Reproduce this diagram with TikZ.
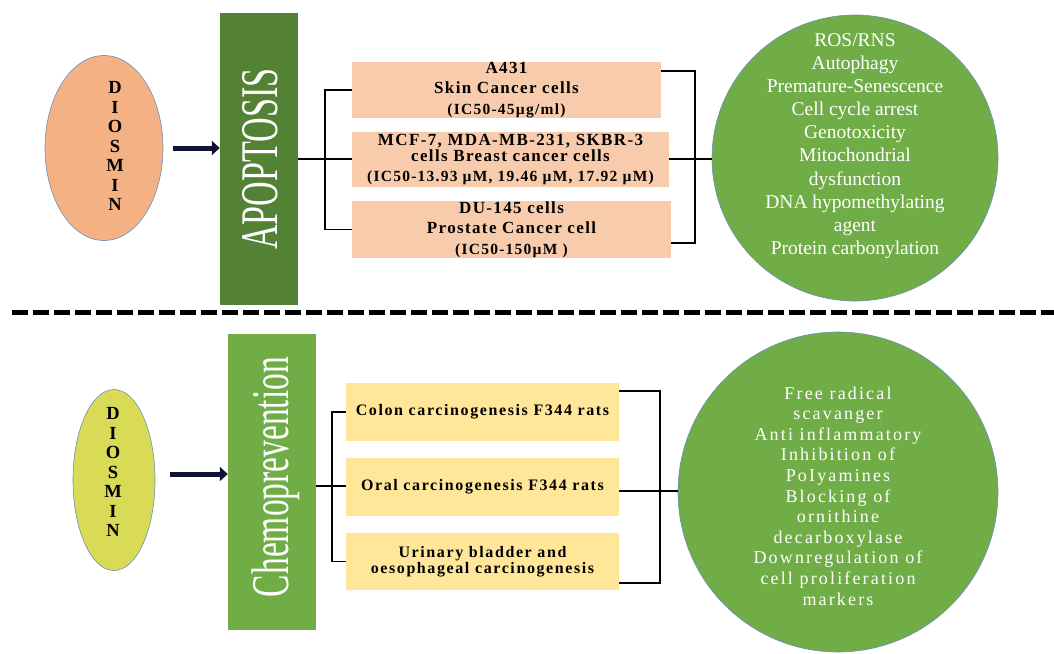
\documentclass[tikz,border=0pt]{standalone}
\usepackage{fontspec}
\setmainfont{Liberation Serif}
\newfontfamily\trkA[LetterSpace=8,Ligatures=NoCommon]{Liberation Serif}
\newfontfamily\trkB[LetterSpace=10,Ligatures=NoCommon]{Liberation Serif}
\newfontfamily\trkC[LetterSpace=12,Ligatures=NoCommon]{Liberation Serif}
\usetikzlibrary{shapes.geometric,arrows.meta}
\definecolor{orangeE}{HTML}{F4B183}
\definecolor{ellOut}{HTML}{6A8EBB}
\definecolor{darkG}{HTML}{548235}
\definecolor{peach}{HTML}{F8CBAD}
\definecolor{lgreen}{HTML}{70AD47}
\definecolor{yellE}{HTML}{D9DA55}
\definecolor{gold}{HTML}{FFE699}
\definecolor{arrowC}{HTML}{0F1230}
\begin{document}
\begin{tikzpicture}[x=1pt,y=-1pt,
  oval/.style={ellipse,draw=ellOut,line width=0.6pt,inner sep=0pt},
  dletters/.style={align=center,inner sep=0pt,font=\fontsize{18.5}{19.5}\selectfont\bfseries},
  bar/.style={rectangle,draw=none,inner sep=0pt},
  vtext/.style={rotate=90,anchor=base,inner sep=0pt,text=white},
  pbox/.style={rectangle,fill=peach,draw=none,inner sep=0pt,align=center,
    font=\trkA\bfseries\fontsize{17}{20.5}\selectfont},
  gbox/.style={rectangle,fill=gold,draw=none,inner sep=0pt,align=center,
    font=\trkB\bfseries\fontsize{16}{16}\selectfont},
  bigcirc/.style={circle,fill=lgreen,draw=ellOut,line width=0.6pt,inner sep=0pt},
  ctextA/.style={align=center,inner sep=0pt,text=white,font=\fontsize{19.5}{23.1}\selectfont},
  ctextB/.style={align=center,inner sep=0pt,text=white,font=\trkC\fontsize{18}{20.6}\selectfont},
  arr/.style={draw=arrowC,line width=5pt,-{Triangle[length=8pt,width=14pt]}},
  brk/.style={draw=black,line width=1.4pt},
  brkR/.style={draw=black,line width=1.8pt},
  dashln/.style={draw=black,line width=5pt,dash pattern=on 16pt off 5pt}
]
\useasboundingbox (0,0) rectangle (1054,653);

% ---------- top section ----------
\node[oval,fill=orangeE,minimum width=118pt,minimum height=185pt] (e1) at (104,148) {};
\node[dletters] (d1) at (115,146) {D\\I\\O\\S\\M\\I\\N};
\node[bar,fill=darkG,minimum width=78pt,minimum height=292pt] (apop) at (259,159) {};
\node[vtext] (apopt) at (277,159) {\scalebox{1}[1.55]{\fontsize{34.1}{34}\selectfont APOPTOSIS}};
\draw[arr,shorten <=10pt] (e1.east) -- (e1.east -| apop.west);

\node[pbox,minimum width=309pt,minimum height=54pt] (b1) at (506.5,90)
  {A431\\Skin Cancer cells\\{\fontsize{15.5}{20.5}\selectfont (IC50-45µg/ml)}};
\node[pbox,minimum width=317pt,minimum height=55pt] (b2) at (510.5,159.5)
  {MCF-7, MDA-MB-231, SKBR-3\\[-4.5pt]cells Breast cancer cells\\[-0.5pt]{\fontsize{15.5}{20.5}\selectfont (IC50-13.93 µM, 19.46 µM, 17.92 µM)}};
\node[pbox,minimum width=319pt,minimum height=55pt] (b3) at (511.5,229.5)
  {DU-145 cells\\Prostate Cancer cell\\{\fontsize{15.5}{20.5}\selectfont (IC50-150µM )}};

\node[bigcirc,minimum size=286pt] (c1) at (855,158) {};
\node[ctextA] (c1t) at (855,146) {ROS/RNS\\Autophagy\\Premature-Senescence\\Cell cycle arrest\\Genotoxicity\\Mitochondrial\\dysfunction\\DNA hypomethylating\\agent\\Protein carbonylation};

\coordinate (lb1) at (325,159);
\draw[brk] (apop.east |- lb1) -- (lb1 -| b2.west);
\draw[brk] (b1.west) -| (lb1) |- (b3.west);
\coordinate (rb1) at (695,159);
\draw[brkR] ([yshift=19pt]b1.east) -| (rb1) |- ([yshift=-13.5pt]b3.east);
\draw[brk] (rb1 -| b2.east) -- (rb1 -| c1.west);

% ---------- divider ----------
\coordinate (dL) at (12,312);
\coordinate (dR) at (1054,312);
\draw[dashln] (dL) -- (dR);

% ---------- bottom section ----------
\node[oval,fill=yellE,minimum width=82pt,minimum height=181pt] (e2) at (114,480) {};
\node[dletters] (d2) at (113,472) {D\\I\\O\\S\\M\\I\\N};
\node[bar,fill=lgreen,minimum width=88pt,minimum height=296pt] (chemo) at (272,482) {};
\node[vtext] (chemot) at (288,477) {\scalebox{1}[1.58]{\fontsize{33.5}{34}\selectfont Chemoprevention}};
\coordinate (a2) at (160,474);
\draw[arr] (a2 -| e2.east) ++(15,0) -- (a2 -| chemo.west);

\node[gbox,minimum width=273pt,minimum height=58pt] (B1) at (482.5,412) {Colon carcinogenesis F344 rats};
\node[gbox,minimum width=273pt,minimum height=58pt] (B2) at (482.5,487) {Oral carcinogenesis F344 rats};
\node[gbox,minimum width=273pt,minimum height=57pt] (B3) at (482.5,561.5) {Urinary bladder and\\oesophageal carcinogenesis};

\node[bigcirc,minimum size=320pt] (c2) at (838,492) {};
\node[ctextB] (c2t) at (838,496) {Free radical\\scavanger\\Anti inflammatory\\Inhibition of\\PoIyamines\\Blocking of\\ornithine\\decarboxylase\\Downregulation of\\cell proliferation\\markers};

\coordinate (lb2) at (332,486);
\draw[brk] (lb2 -| chemo.east) -- (lb2 -| B2.west);
\draw[brk] (B1.west) -| (lb2) |- (B3.west);
\coordinate (rb2) at (660,491);
\draw[brkR] ([yshift=21pt]B1.east) -| (rb2) |- ([yshift=-21.5pt]B3.east);
\draw[brk] (rb2 -| B2.east) -- (rb2 -| c2.west);
\end{tikzpicture}
\end{document}
